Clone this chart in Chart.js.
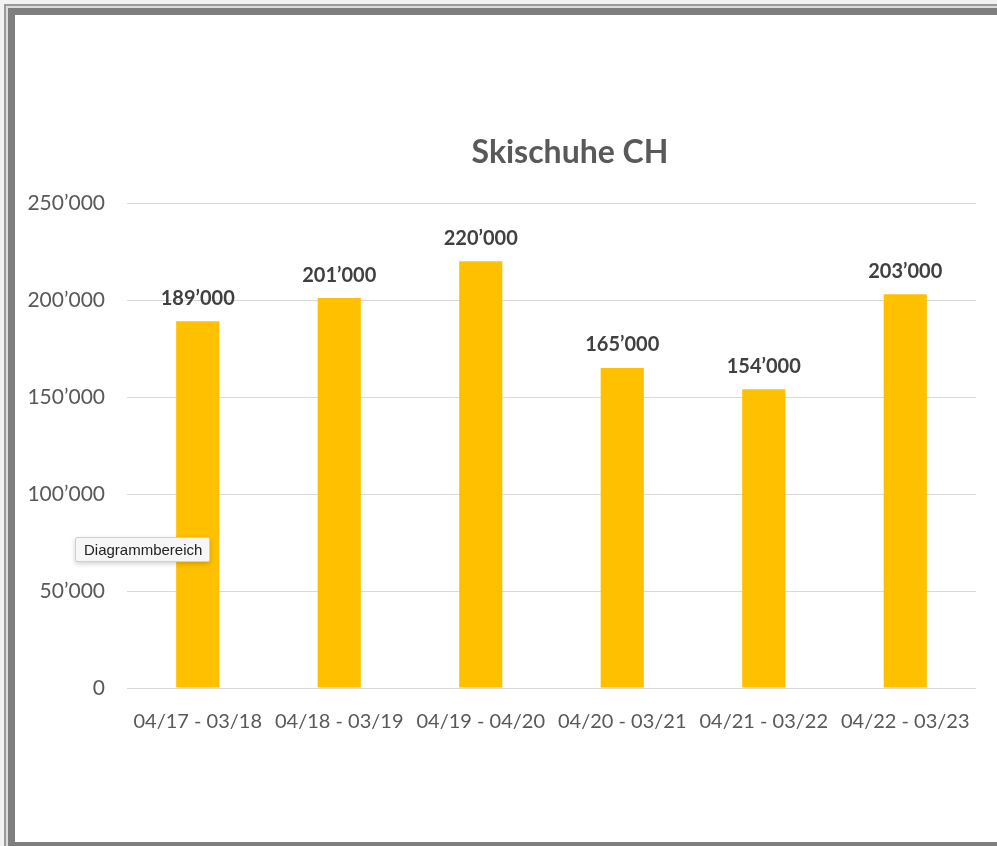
<!DOCTYPE html>
<html>
<head>
<meta charset="utf-8">
<script src="https://cdn.jsdelivr.net/npm/chart.js@4"></script>
<style>
  body { margin: 0; background: #f2f2f2; }
  #wrap { position: absolute; left: 0; top: 0; width: 997px; height: 846px; }
  #tip {
    position: absolute; left: 75px; top: 537px; height: 23px; padding: 0 7px 0 8px;
    background: #f6f6f6; border: 1px solid #cfcfcf; border-radius: 2px;
    font: 15px "Liberation Sans", Arial, sans-serif; color: #222; line-height: 23px;
    box-shadow: 0 2px 5px rgba(0,0,0,0.18);
  }
</style>
</head>
<body>
<div id="wrap"><canvas id="myChart" width="997" height="846"></canvas></div>
<div id="tip">Diagrammbereich</div>
<script>
const labels = ['04/17 - 03/18','04/18 - 03/19','04/19 - 04/20','04/20 - 03/21','04/21 - 03/22','04/22 - 03/23'];
const values = [189000, 201000, 220000, 165000, 154000, 203000];
const chartTitle = 'Skischuhe CH';
const barColor = '#FFC000';
const fontName = 'Lato';

// 250'000 style
const swiss = v => String(v).replace(/\B(?=(\d{3})+(?!\d))/g, '\u2019');

const framePlugin = {
  id: 'frame',
  beforeDraw(chart) {
    const c = chart.ctx;
    c.save();
    c.fillStyle = '#f2f2f2';
    c.fillRect(0, 0, 997, 846);
    c.fillStyle = '#9a9a9a';
    c.fillRect(4, 4, 993, 842);
    c.fillStyle = '#dcdcdc';
    c.fillRect(6, 6, 991, 840);
    c.fillStyle = '#7f7f7f';
    c.fillRect(8, 8, 989, 838);
    c.fillStyle = '#ffffff';
    c.fillRect(15, 15, 982, 827);
    c.restore();
  },
  afterDraw(chart) {
    const c = chart.ctx;
    c.save();
    c.fillStyle = '#595959';
    c.font = 'bold 32px ' + fontName;
    c.textAlign = 'center';
    c.textBaseline = 'middle';
    c.fillText(chartTitle, 570, 153);
    const meta = chart.getDatasetMeta(0);
    c.fillStyle = '#404040';
    c.font = 'bold 20px ' + fontName;
    meta.data.forEach((bar, i) => {
      c.fillText(swiss(values[i]), bar.x, bar.y - 23);
    });
    c.restore();
  }
};

const ctx = document.getElementById('myChart');
const myChart = new Chart(ctx, {
  type: 'bar',
  data: {
    labels: labels,
    datasets: [{
      data: values,
      backgroundColor: barColor,
      barPercentage: 0.305,
      categoryPercentage: 1
    }]
  },
  options: {
    responsive: false,
    animation: false,
    layout: { padding: { left: 0, right: 21, top: 203, bottom: 0 } },
    scales: {
      x: {
        grid: { display: false },
        border: { display: false },
        ticks: { color: '#595959', font: { family: fontName, size: 20 }, padding: 14, maxRotation: 0 },
        afterFit: s => { s.height = 158; }
      },
      y: {
        min: 0,
        max: 250000,
        grid: { color: '#d9d9d9', lineWidth: 1, drawTicks: false },
        border: { display: false },
        ticks: { stepSize: 50000, color: '#595959', font: { family: fontName, size: 21 }, padding: 22, callback: v => swiss(v) },
        afterFit: s => { s.width = 127; }
      }
    },
    plugins: {
      legend: { display: false },
      tooltip: { enabled: false }
    }
  },
  plugins: [framePlugin]
});
</script>
</body>
</html>
